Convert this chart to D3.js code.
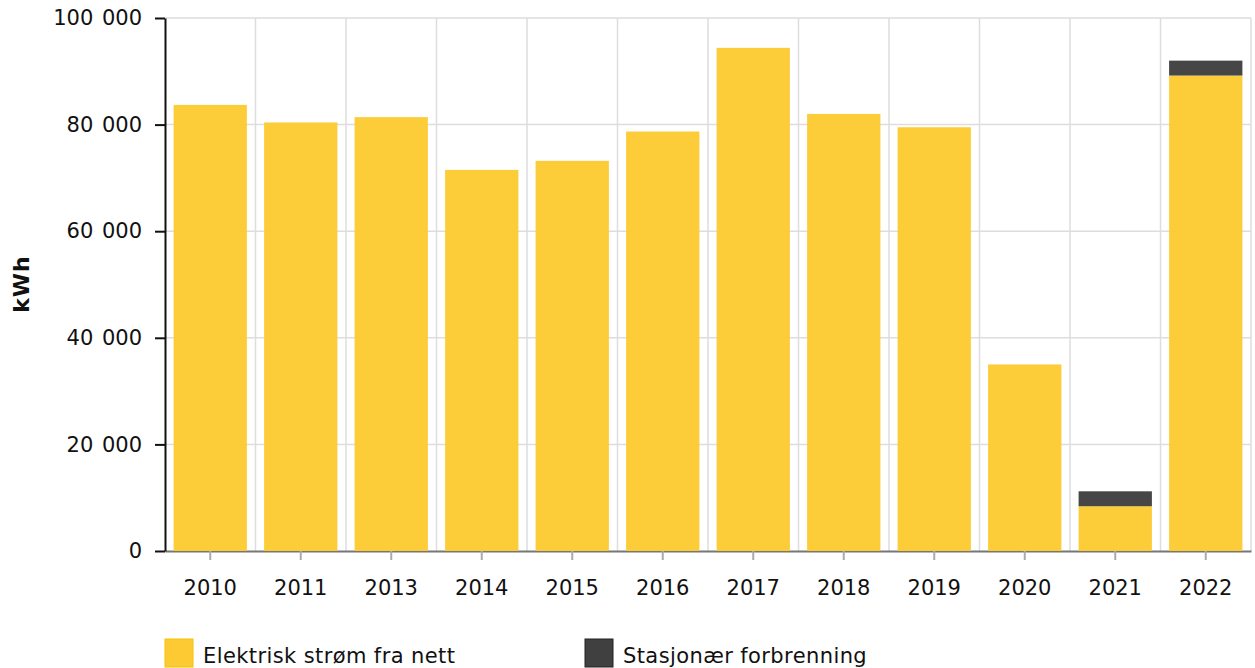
<!DOCTYPE html>
<html>
<head>
<meta charset="utf-8">
<script src="https://cdn.jsdelivr.net/npm/d3@7"></script>
<style>
  body { margin: 0; background: #fff; }
  text { font-family: Verdana, "DejaVu Sans", sans-serif; fill: #111; }
</style>
</head>
<body>
<div class="chart"></div>
<script>
var years = ["2010", "2011", "2013", "2014", "2015", "2016", "2017", "2018", "2019", "2020", "2021", "2022"];
var elektrisk = [83700, 80400, 81400, 71500, 73200, 78700, 94400, 82000, 79500, 35000, 8400, 89200];
var stasjonaer = [0, 0, 0, 0, 0, 0, 0, 0, 0, 0, 2800, 2800];
var seriesNames = ["Elektrisk strøm fra nett", "Stasjonær forbrenning"];
var colors = ["#fdca33", "#404040"];
var yTicks = [0, 20000, 40000, 60000, 80000, 100000];

var W = 1255, H = 668;
var margin = { top: 18, right: 4, bottom: 117, left: 165 };
var width = W - margin.left - margin.right,
  height = H - margin.top - margin.bottom;

var svg = d3.select(".chart").append("svg")
  .attr("width", W)
  .attr("height", H);

var g = svg.append("g")
  .attr("transform", "translate(" + margin.left + "," + margin.top + ")");

var x = d3.scaleBand()
  .domain(years)
  .range([0, width])
  .paddingInner(0.19)
  .paddingOuter(0.095);

var y = d3.scaleLinear()
  .domain([0, 100000])
  .range([height, 0]);

var fmt = function (d) { return d3.format(",")(d).replace(/,/g, " "); };

// gridlines
g.append("g").selectAll("line").data(yTicks.slice(1))
  .enter().append("line")
  .attr("x1", 0).attr("x2", width)
  .attr("y1", d => y(d)).attr("y2", d => y(d))
  .attr("stroke", "#ddd").attr("stroke-width", 1.5);

g.append("g").selectAll("line").data(d3.range(1, years.length + 1))
  .enter().append("line")
  .attr("x1", d => d * width / years.length).attr("x2", d => d * width / years.length)
  .attr("y1", 0).attr("y2", height)
  .attr("stroke", "#ddd").attr("stroke-width", 1.5);

// x axis (under the bars)
var xAxis = g.append("g")
  .attr("transform", "translate(0," + height + ")")
  .call(d3.axisBottom(x).tickSizeInner(9).tickSizeOuter(0).tickPadding(20));
xAxis.select(".domain").attr("stroke", "#777").attr("stroke-width", 2);
xAxis.selectAll(".tick line").attr("stroke", "#aaa").attr("stroke-width", 2);
xAxis.selectAll("text").style("font-size", "21px").attr("fill", "#111");

// stacked data
var data = years.map(function (yr, i) {
  return { year: yr, elektrisk: elektrisk[i], stasjonaer: stasjonaer[i] };
});
var stack = d3.stack().keys(["elektrisk", "stasjonaer"])(data);

g.append("g").selectAll("g").data(stack)
  .enter().append("g")
  .attr("fill", (d, i) => colors[i])
  .attr("fill-opacity", 0.97)
  .selectAll("rect").data(d => d)
  .enter().append("rect")
  .attr("x", d => x(d.data.year))
  .attr("width", x.bandwidth())
  .attr("y", d => y(d[1]))
  .attr("height", d => y(d[0]) - y(d[1]));

// y axis
var yAxis = g.append("g")
  .call(d3.axisLeft(y).tickValues(yTicks).tickFormat(fmt).tickSizeInner(10).tickSizeOuter(0).tickPadding(13));
yAxis.select(".domain").attr("stroke", "#111").attr("stroke-width", 2);
yAxis.selectAll(".tick line").attr("stroke", "#111").attr("stroke-width", 2);
yAxis.selectAll("text").style("font-size", "21px").style("word-spacing", "2px").attr("fill", "#111");

svg.append("text")
  .attr("transform", "translate(29,284) rotate(-90)")
  .attr("text-anchor", "middle")
  .style("font-size", "22px")
  .style("font-weight", "bold")
  .style("letter-spacing", "1px")
  .text("kWh");

// legend
var legendX = [165, 585];
var legend = svg.append("g").selectAll("g").data(seriesNames)
  .enter().append("g")
  .attr("transform", (d, i) => "translate(" + legendX[i] + ",639)");
legend.append("rect")
  .attr("width", 28).attr("height", 28)
  .attr("fill", (d, i) => colors[i])
  .attr("stroke", (d, i) => i === 0 ? "#f5c400" : "#222")
  .attr("stroke-width", 1);
legend.append("text")
  .attr("x", 38).attr("y", 24)
  .style("font-size", "21px")
  .style("letter-spacing", "0.4px")
  .text(d => d);
</script>
</body>
</html>
